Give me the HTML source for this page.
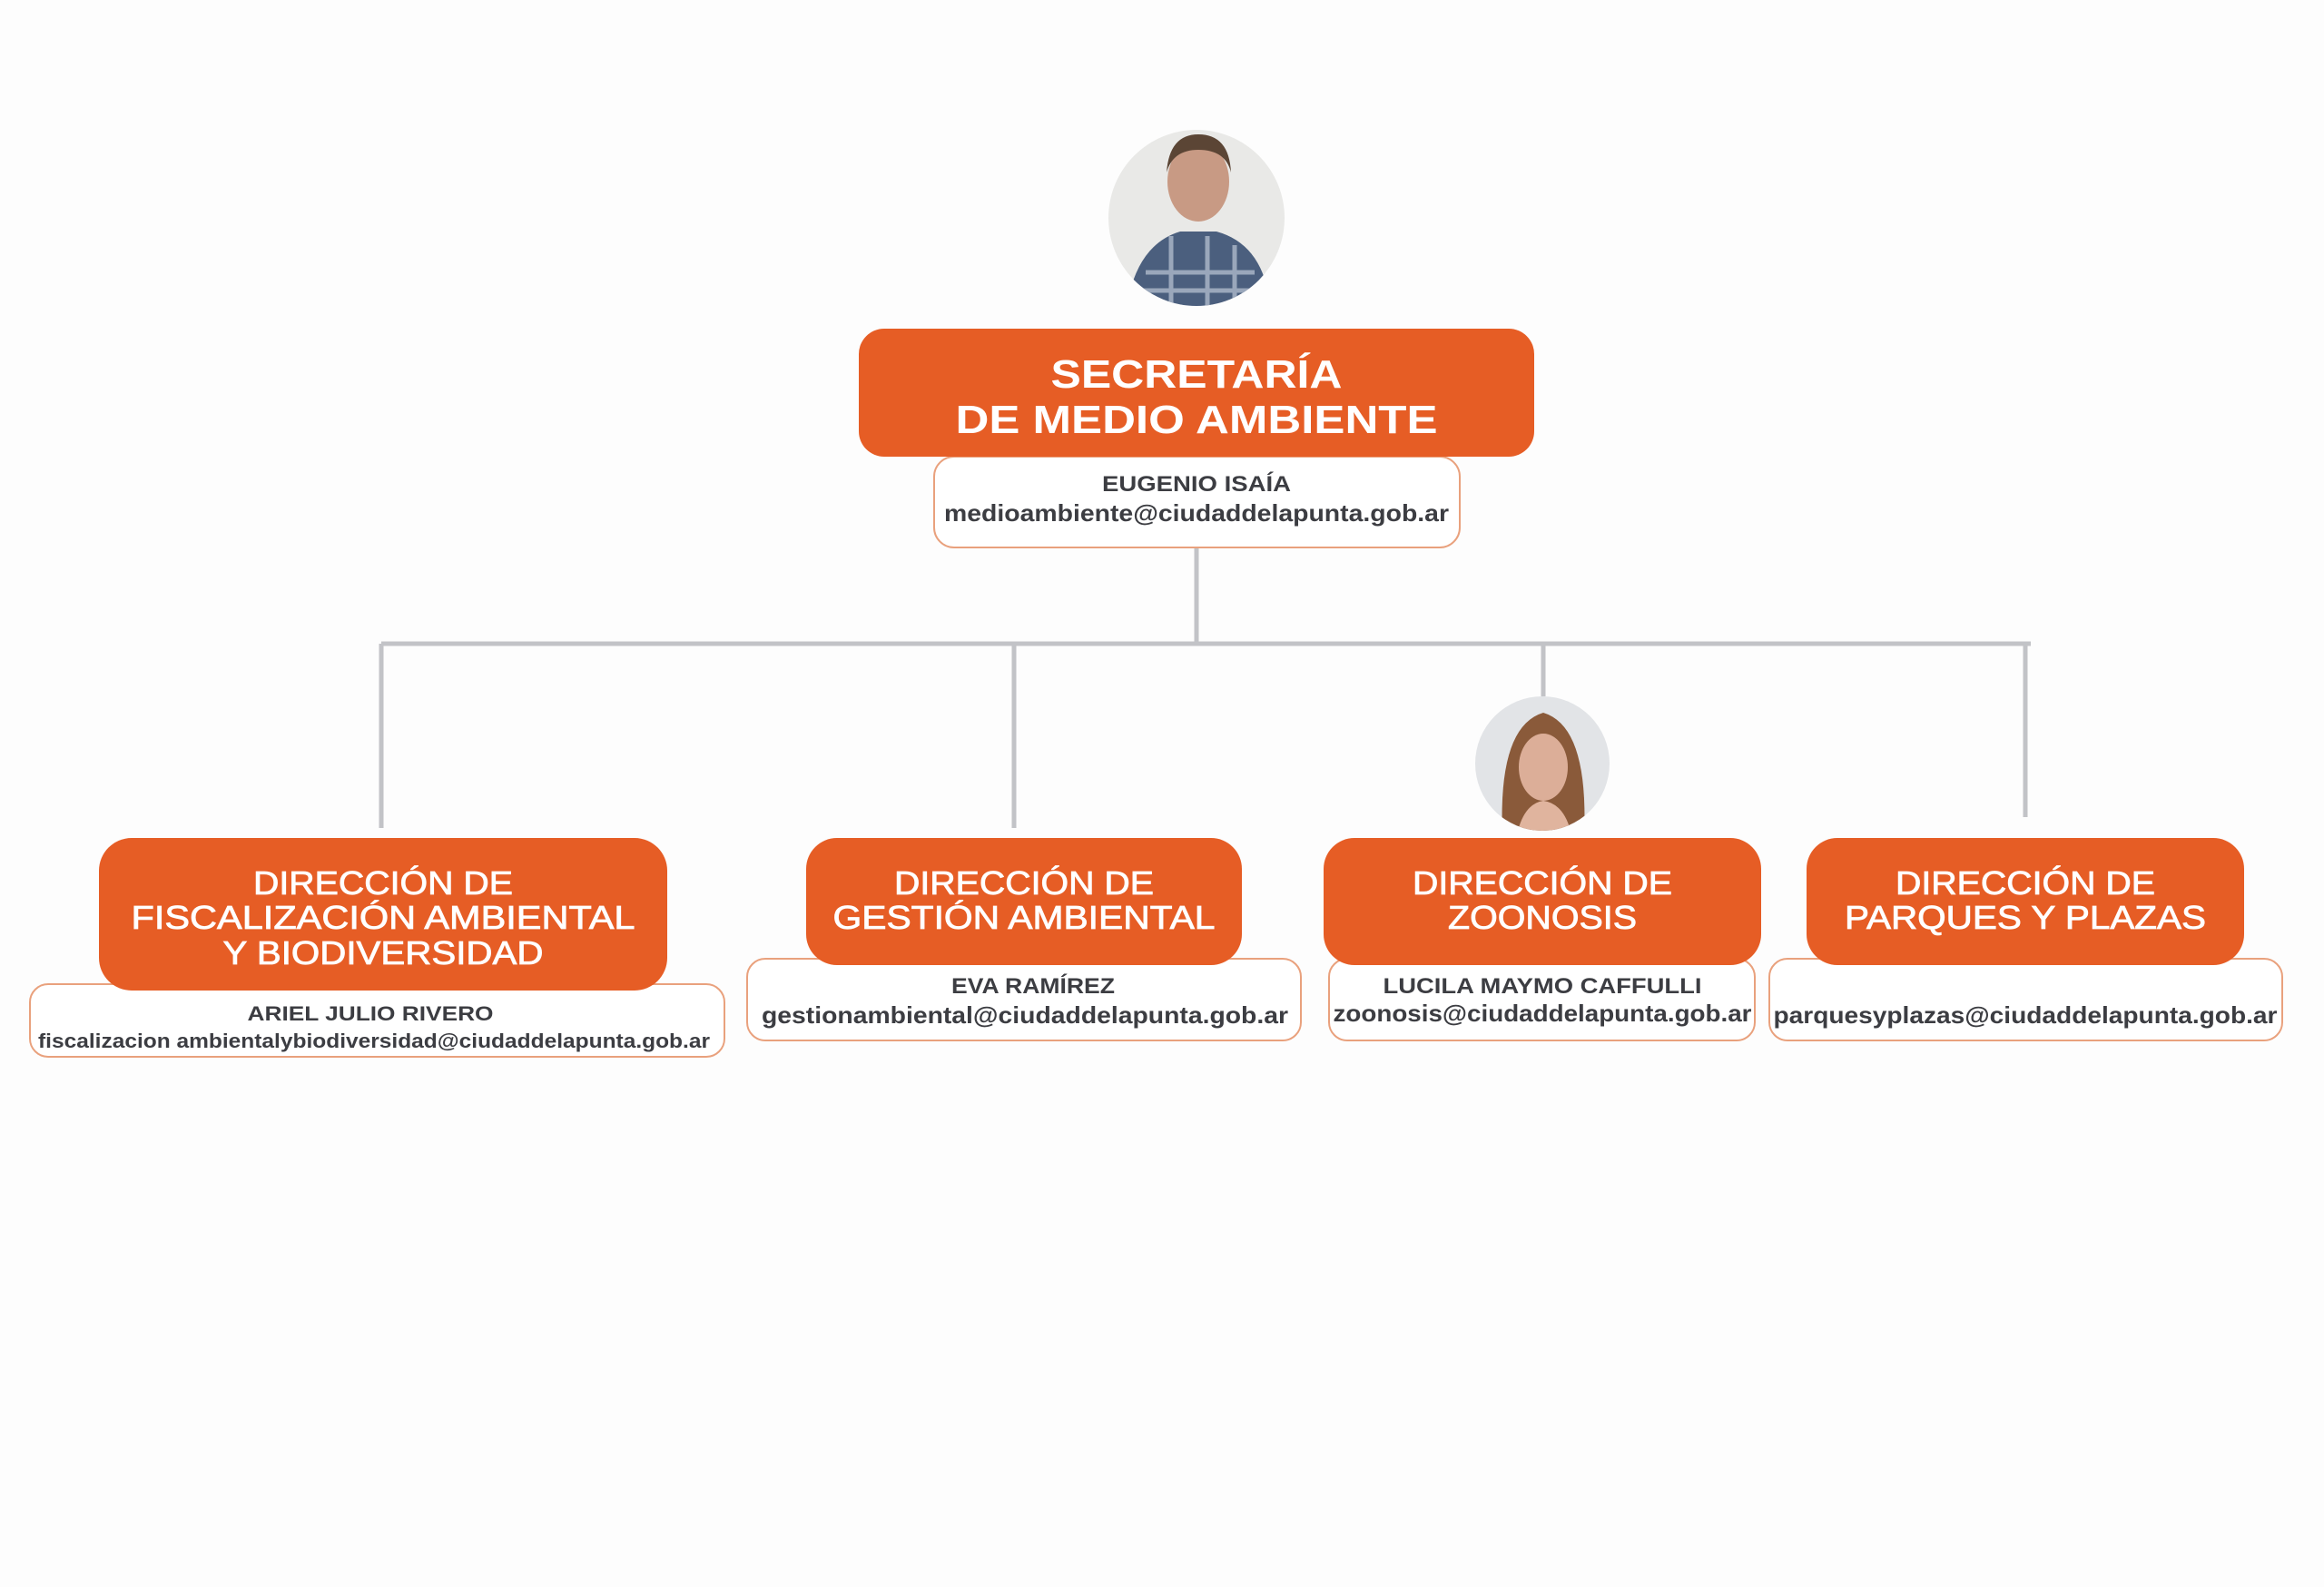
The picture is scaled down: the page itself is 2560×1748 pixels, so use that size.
<!DOCTYPE html>
<html><head><meta charset="utf-8"><style>
html,body{margin:0;padding:0;background:#fdfdfd;}
svg{display:block}
.t{font-family:"Liberation Sans",sans-serif;fill:#fff;}
.m{stroke:#fff;stroke-width:0.8;}
.d{font-family:"Liberation Sans",sans-serif;fill:#3c3d42;font-weight:bold;}
</style></head><body>
<svg width="2560" height="1748" viewBox="0 0 2560 1748" xmlns="http://www.w3.org/2000/svg">
<rect width="2560" height="1748" fill="#fdfdfd"/>
<defs>
<clipPath id="c1"><circle cx="1318" cy="240" r="97"/></clipPath>
<clipPath id="c2"><circle cx="1699" cy="841" r="74"/></clipPath>
</defs>
<g stroke="#c2c3c7" stroke-width="5" fill="none">
<line x1="1318" y1="603" x2="1318" y2="709"/>
<line x1="420" y1="709" x2="2237" y2="709"/>
<line x1="420" y1="709" x2="420" y2="912"/>
<line x1="1117" y1="709" x2="1117" y2="912"/>
<line x1="1700" y1="709" x2="1700" y2="767"/>
<line x1="2231" y1="709" x2="2231" y2="900"/>
</g>
<g clip-path="url(#c1)">
<rect x="1220" y="142" width="200" height="200" fill="#e9e9e7"/>
<path d="M1240 345 Q1250 270 1300 255 L1340 255 Q1395 270 1400 345Z" fill="#4b5f7e"/>
<path d="M1262 300 h120 M1258 320 h130 M1290 260 v90 M1330 260 v90 M1360 270 v80" stroke="#9aa7bb" stroke-width="5"/>
<ellipse cx="1320" cy="200" rx="34" ry="44" fill="#c89a84"/>
<path d="M1285 190 Q1288 148 1320 148 Q1354 148 1356 190 Q1350 165 1320 165 Q1292 165 1285 190Z" fill="#5b4535"/>
</g>
<g clip-path="url(#c2)">
<rect x="1620" y="762" width="160" height="160" fill="#e2e4e7"/>
<path d="M1655 920 Q1650 800 1700 785 Q1750 800 1745 920Z" fill="#8a5a3a"/>
<ellipse cx="1700" cy="845" rx="27" ry="37" fill="#dcae98"/>
<path d="M1672 915 Q1680 885 1700 882 Q1722 885 1730 915Z" fill="#e0b49e"/>
</g>
<rect x="1029" y="503" width="579" height="100" rx="22" fill="#fff" stroke="#e9a17d" stroke-width="2"/>
<rect x="946" y="362" width="744" height="141" rx="28" fill="#e65d25"/>
<text class="t" x="1318" y="427" text-anchor="middle" font-size="44" font-weight="bold" textLength="321" lengthAdjust="spacingAndGlyphs">SECRETARÍA</text>
<text class="t" x="1318" y="477" text-anchor="middle" font-size="44" font-weight="bold" textLength="531" lengthAdjust="spacingAndGlyphs">DE MEDIO AMBIENTE</text>
<text class="d" x="1318" y="541" text-anchor="middle" font-size="24" textLength="208" lengthAdjust="spacingAndGlyphs">EUGENIO ISAÍA</text>
<text class="d" x="1318" y="574" text-anchor="middle" font-size="26" textLength="556" lengthAdjust="spacingAndGlyphs">medioambiente@ciudaddelapunta.gob.ar</text>

<rect x="33" y="1084" width="765" height="80" rx="20" fill="#fff" stroke="#e9a17d" stroke-width="2"/>
<rect x="109" y="923" width="626" height="168" rx="36" fill="#e65d25"/>
<text class="t m" x="422" y="985" text-anchor="middle" font-size="36" textLength="286" lengthAdjust="spacingAndGlyphs">DIRECCIÓN DE</text>
<text class="t m" x="422" y="1023" text-anchor="middle" font-size="36" textLength="555" lengthAdjust="spacingAndGlyphs">FISCALIZACIÓN AMBIENTAL</text>
<text class="t m" x="422" y="1062" text-anchor="middle" font-size="36" textLength="353" lengthAdjust="spacingAndGlyphs">Y BIODIVERSIDAD</text>
<text class="d" x="408" y="1124" text-anchor="middle" font-size="22" textLength="271" lengthAdjust="spacingAndGlyphs">ARIEL JULIO RIVERO</text>
<text class="d" x="412" y="1154" text-anchor="middle" font-size="22" textLength="740" lengthAdjust="spacingAndGlyphs">fiscalizacion ambientalybiodiversidad@ciudaddelapunta.gob.ar</text>

<rect x="823" y="1056" width="610" height="90" rx="20" fill="#fff" stroke="#e9a17d" stroke-width="2"/>
<rect x="888" y="923" width="480" height="140" rx="34" fill="#e65d25"/>
<text class="t m" x="1128" y="985" text-anchor="middle" font-size="36" textLength="286" lengthAdjust="spacingAndGlyphs">DIRECCIÓN DE</text>
<text class="t m" x="1128" y="1023" text-anchor="middle" font-size="36" textLength="421" lengthAdjust="spacingAndGlyphs">GESTIÓN AMBIENTAL</text>
<text class="d" x="1138" y="1094" text-anchor="middle" font-size="24" textLength="180" lengthAdjust="spacingAndGlyphs">EVA RAMÍREZ</text>
<text class="d" x="1129" y="1127" text-anchor="middle" font-size="26" textLength="580" lengthAdjust="spacingAndGlyphs">gestionambiental@ciudaddelapunta.gob.ar</text>

<rect x="1464" y="1056" width="469" height="90" rx="20" fill="#fff" stroke="#e9a17d" stroke-width="2"/>
<rect x="1458" y="923" width="482" height="140" rx="34" fill="#e65d25"/>
<text class="t m" x="1699" y="985" text-anchor="middle" font-size="36" textLength="286" lengthAdjust="spacingAndGlyphs">DIRECCIÓN DE</text>
<text class="t m" x="1699" y="1023" text-anchor="middle" font-size="36" textLength="208" lengthAdjust="spacingAndGlyphs">ZOONOSIS</text>
<text class="d" x="1699" y="1094" text-anchor="middle" font-size="24" textLength="351" lengthAdjust="spacingAndGlyphs">LUCILA MAYMO CAFFULLI</text>
<text class="d" x="1699" y="1125" text-anchor="middle" font-size="26" textLength="461" lengthAdjust="spacingAndGlyphs">zoonosis@ciudaddelapunta.gob.ar</text>

<rect x="1949" y="1056" width="565" height="90" rx="20" fill="#fff" stroke="#e9a17d" stroke-width="2"/>
<rect x="1990" y="923" width="482" height="140" rx="34" fill="#e65d25"/>
<text class="t m" x="2231" y="985" text-anchor="middle" font-size="36" textLength="286" lengthAdjust="spacingAndGlyphs">DIRECCIÓN DE</text>
<text class="t m" x="2231" y="1023" text-anchor="middle" font-size="36" textLength="398" lengthAdjust="spacingAndGlyphs">PARQUES Y PLAZAS</text>
<text class="d" x="2231" y="1127" text-anchor="middle" font-size="26" textLength="555" lengthAdjust="spacingAndGlyphs">parquesyplazas@ciudaddelapunta.gob.ar</text>
</svg>
</body></html>
